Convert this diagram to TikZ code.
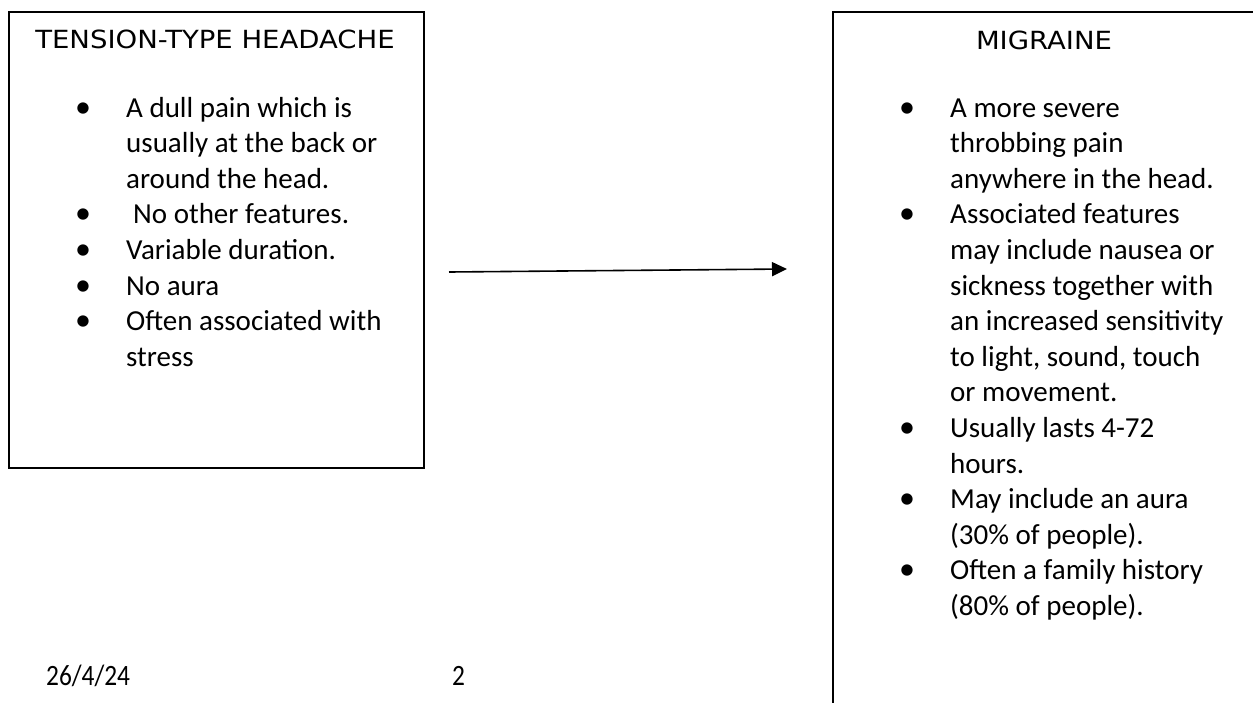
\documentclass[tikz,border=0pt]{standalone}
\usepackage{fontspec}
\setmainfont{Carlito}
\newfontfamily\titlefont[FakeStretch=1.1]{DejaVu Sans}
\newfontfamily\footfont[FakeStretch=0.86]{Carlito}
\usetikzlibrary{arrows.meta}
\begin{document}
\begin{tikzpicture}[x=1pt,y=-1pt,
  box/.style={draw=black,line width=1.5pt,inner sep=0pt,outer sep=0pt,anchor=north west},
  txt/.style={anchor=base west,inner sep=0pt,font=\fontsize{29}{35.6}\selectfont},
  bul/.style={anchor=base,inner sep=0pt,font=\fontsize{32}{35.6}\selectfont},
  ttl/.style={anchor=base,inner sep=0pt,font=\titlefont\fontsize{25}{30}\selectfont},
  foot/.style={anchor=base west,inner sep=0pt,font=\footfont\fontsize{29.5}{35.6}\selectfont},
  conn/.style={line width=1.6pt,-{Triangle[length=15pt,width=14pt]}}]
\useasboundingbox (0,0) rectangle (1253,702);
\clip (0,0) rectangle (1253,702);
% boxes
\node[box,minimum width=415pt,minimum height=456pt] (leftbox) at (9,12) {};
\node[box,minimum width=520pt,minimum height=800pt] (rightbox) at (833,12) {};
% titles
\node[ttl] (lefttitle) at (215,48) {TENSION-TYPE HEADACHE};
\node[ttl] (righttitle) at (1044,49) {MIGRAINE};
% left text
\foreach \t [count=\i] in {A dull pain which is, usually at the back or, around the head., {}, Variable duration., No aura, Often associated with, stress}
  \node[txt] (L\i) at (126,{117+35.6*(\i-1)}) {\t};
\node[txt] (L4b) at (133,{117+35.6*3}) {No other features.};
\foreach \i in {0,3,4,5,6}
  \node[bul] (LB\i) at (83,{117+35.6*\i}) {•};
% right text
\foreach \t [count=\i] in {A more severe, throbbing pain, anywhere in the head., Associated features, may include nausea or, sickness together with, an increased sensitivity, {to light, sound, touch}, or movement., Usually lasts 4-72, hours., May include an aura, (30\% of people)., Often a family history, (80\% of people).}
  \node[txt] (R\i) at (950,{117+35.6*(\i-1)}) {\t};
\foreach \i in {0,3,9,11,13}
  \node[bul] (RB\i) at (907,{117+35.6*\i}) {•};
% arrow
\coordinate (arrowstart) at (449,272);
\coordinate (arrowend) at (787,269);
\draw[conn] (arrowstart) -- (arrowend);
% footer
\node[foot] (date) at (46,685) {26/4/24};
\node[foot] (page) at (452,685) {2};
\end{tikzpicture}
\end{document}
